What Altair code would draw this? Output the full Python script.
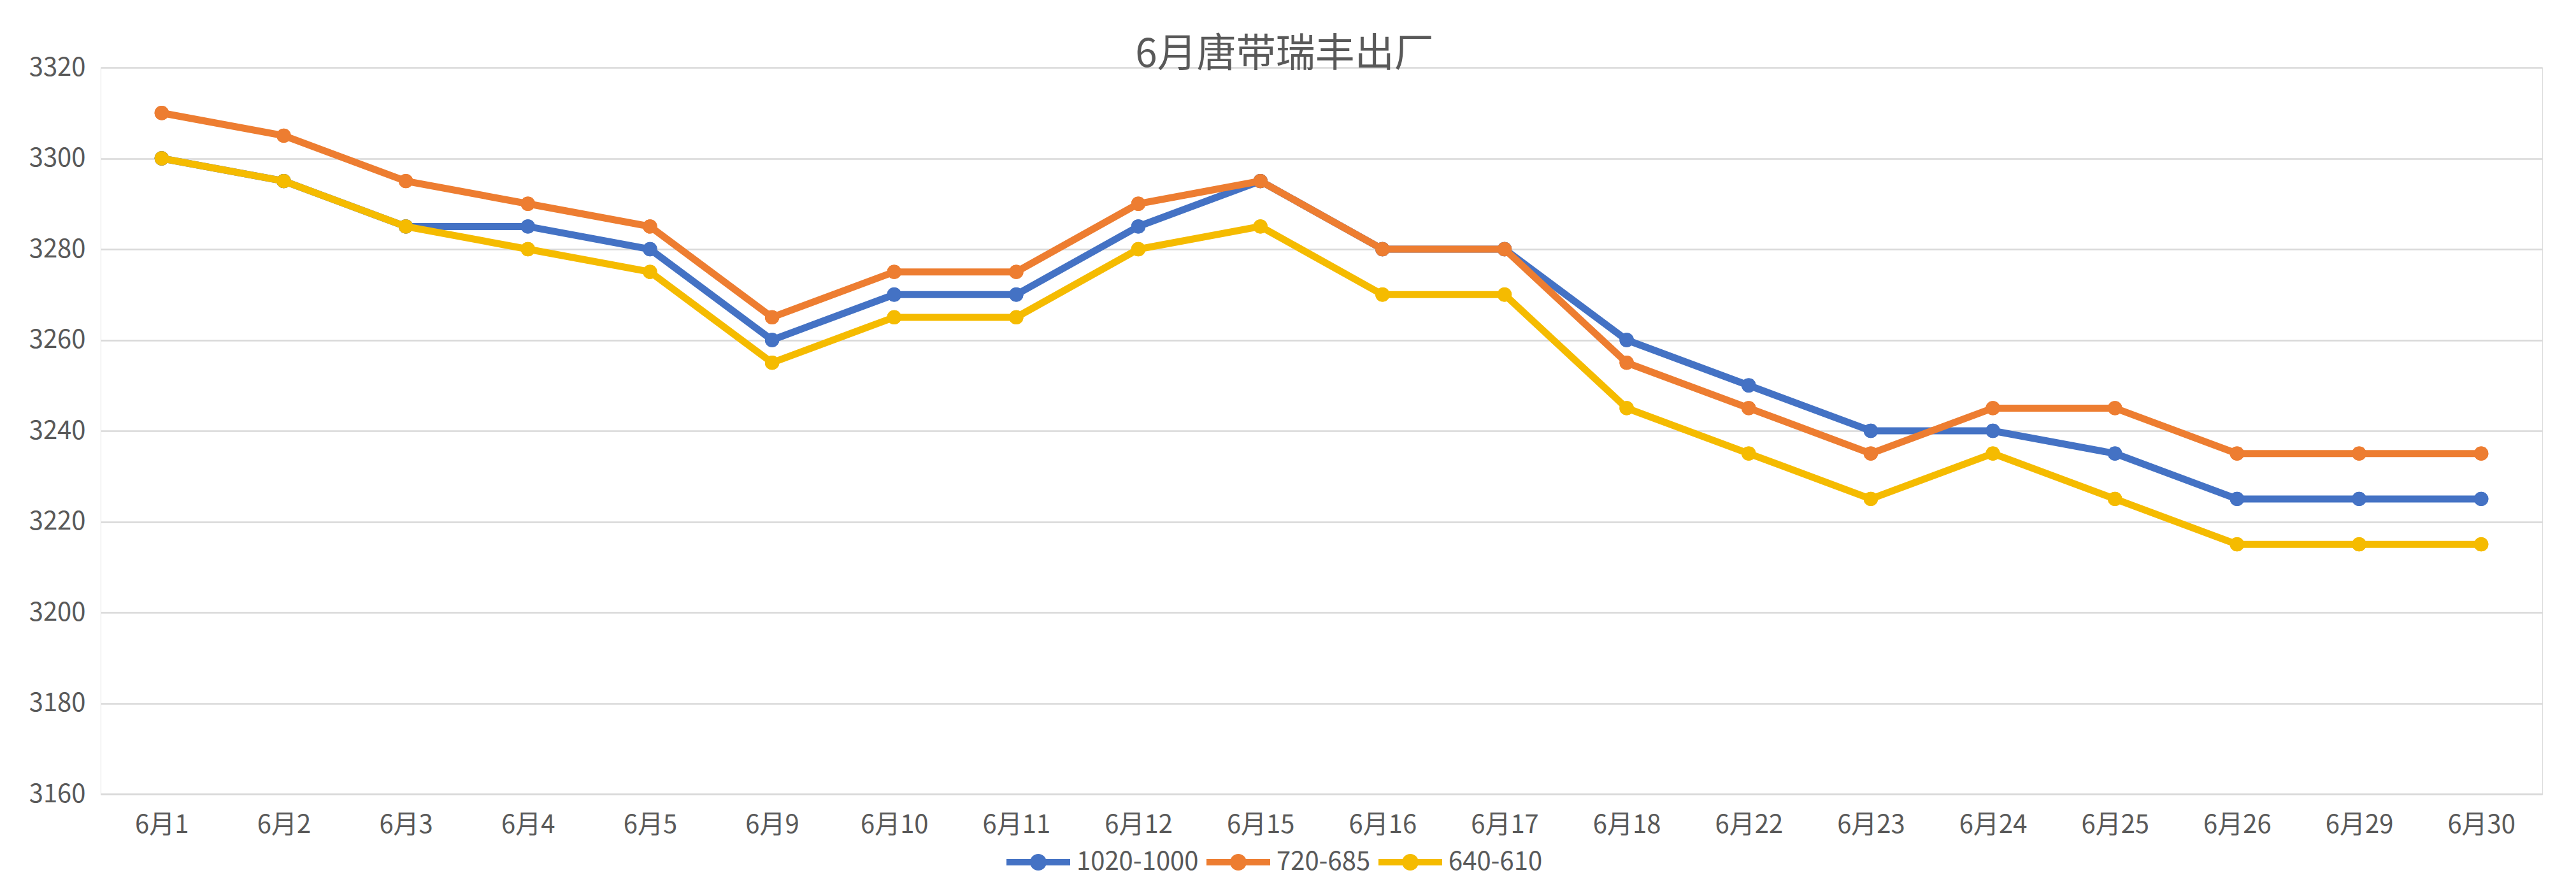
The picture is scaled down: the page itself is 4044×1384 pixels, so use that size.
import altair as alt
import pandas as pd

dates = ["6月1", "6月2", "6月3", "6月4", "6月5", "6月9", "6月10", "6月11", "6月12", "6月15",
         "6月16", "6月17", "6月18", "6月22", "6月23", "6月24", "6月25", "6月26", "6月29", "6月30"]
series_names = ["1020-1000", "720-685", "640-610"]
s_1020 = [3300, 3295, 3285, 3285, 3280, 3260, 3270, 3270, 3285, 3295,
          3280, 3280, 3260, 3250, 3240, 3240, 3235, 3225, 3225, 3225]
s_720 = [3310, 3305, 3295, 3290, 3285, 3265, 3275, 3275, 3290, 3295,
         3280, 3280, 3255, 3245, 3235, 3245, 3245, 3235, 3235, 3235]
s_640 = [3300, 3295, 3285, 3280, 3275, 3255, 3265, 3265, 3280, 3285,
         3270, 3270, 3245, 3235, 3225, 3235, 3225, 3215, 3215, 3215]
colors = ["#4472C4", "#ED7D31", "#F5BB00"]

rows = []
for name, vals in zip(series_names, [s_1020, s_720, s_640]):
    for d, v in zip(dates, vals):
        rows.append({"date": d, "series": name, "value": v})
df = pd.DataFrame(rows)

FONT = "Noto Sans CJK SC"
TXT = "#595959"

legend_path = ("M-1,-0.1L1,-0.1L1,0.1L-1,0.1Z "
               "M0.26,0A0.26,0.26 0 1,1 -0.26,0A0.26,0.26 0 1,1 0.26,0Z")

color_scale = alt.Scale(domain=series_names, range=colors)
x_enc = alt.X("date:N", sort=dates, scale=alt.Scale(paddingInner=0, paddingOuter=0.5),
              axis=alt.Axis(title=None, labelAngle=0, labelFontSize=40, labelColor=TXT,
                            labelFont=FONT, labelPadding=28, ticks=False, grid=False,
                            domainColor="#D9D9D9", domainWidth=2.5))
y_enc = alt.Y("value:Q", scale=alt.Scale(domain=[3160, 3320], nice=False, zero=False),
              axis=alt.Axis(title=None, values=list(range(3160, 3321, 20)), format="d",
                            labelFontSize=40, labelColor=TXT, labelFont=FONT, labelPadding=24,
                            ticks=False, domain=False, gridColor="#D9D9D9", gridWidth=2.5))
legend = alt.Legend(title=None, orient="none", direction="horizontal",
                    legendX=1422, legendY=1197,
                    symbolType=legend_path, symbolSize=10000,
                    symbolStrokeWidth=0, labelFontSize=40, labelLimit=0,
                    labelColor=TXT, labelFont=FONT, labelOffset=10,
                    columnPadding=12)
color_enc = alt.Color("series:N", scale=color_scale, sort=series_names, legend=legend)

PT_SIZE = 500
LINE_W = 11

layers = [alt.Chart(df).mark_point(filled=True, size=PT_SIZE, opacity=1).encode(
    x=x_enc, y=y_enc, color=color_enc)]
for name in series_names:
    base = alt.Chart(df).transform_filter(alt.datum.series == name)
    layers.append(base.mark_line(strokeWidth=LINE_W).encode(x=x_enc, y=y_enc, color=color_enc))
    layers.append(base.mark_point(filled=True, size=PT_SIZE, opacity=1).encode(
        x=x_enc, y=y_enc, color=color_enc))

chart = alt.layer(*layers).properties(
    width=3833, height=1140,
    title=alt.Title("6月唐带瑞丰出厂", fontSize=62, font=FONT, color=TXT, fontWeight="normal",
                    anchor="middle", dx=-58, dy=87, offset=6, baseline="alphabetic"),
    autosize=alt.AutoSizeParams(type="none"),
    padding={"left": 158, "top": 106, "right": 53, "bottom": 138},
).configure_view(stroke=None).configure(background="white")

chart.save("out.html", embed_options={"renderer": "svg", "actions": False})
